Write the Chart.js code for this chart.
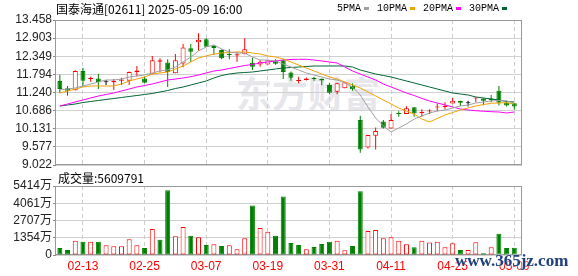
<!DOCTYPE html>
<html>
<head>
<meta charset="utf-8">
<script src="https://cdn.jsdelivr.net/npm/chart.js@4.4.0/dist/chart.umd.min.js"></script>
<style>
    body { margin: 0; background: #fff; width: 578px; height: 276px; overflow: hidden; position: relative; }
    canvas { position: absolute; left: 0; top: 0; }
    .txt { position: absolute; white-space: nowrap; line-height: 16px; }
    #title { left: 56px; top: 0; font: 12px "Noto Sans CJK SC", sans-serif; color: #000; }
    #legend { left: 337px; top: 0; display: flex; align-items: center; font: 10px "Liberation Mono", monospace; color: #000; height: 17px; }
    #legend span.sq { display: inline-block; width: 5px; height: 3px; margin: 0 8px 0 3px; }
    #volLabel { left: 58px; top: 169px; font: 12px "Noto Sans CJK SC", sans-serif; color: #000; }
    #mark { left: 236px; top: 72px; font: bold 36px "Noto Sans CJK SC", sans-serif; color: #e6e6eb; line-height: 40px; }
    #site { left: 455px; top: 251px; font: bold 17px "Liberation Serif", serif; color: #20407c; text-shadow: 0 0 2px #fff, 0 0 2px #fff; line-height: 20px; }
</style>
</head>
<body>
<div class="txt" id="mark">东方财富</div>
<canvas id="kChart" width="578" height="276"></canvas>
<canvas id="volChart" width="578" height="276"></canvas>
<div class="txt" id="title">国泰海通[02611] 2025-05-09 16:00</div>
<div class="txt" id="legend"></div>
<div class="txt" id="volLabel">成交量:5609791</div>
<div class="txt" id="site">www.365jz.com</div>
<script>
// Trading days shown
const dates = ['02-10','02-11','02-12','02-13','02-14','02-17','02-18','02-19','02-20','02-21',
    '02-24','02-25','02-26','02-27','02-28','03-03','03-04','03-05','03-06','03-07',
    '03-10','03-11','03-12','03-13','03-14','03-17','03-18','03-19','03-20','03-21',
    '03-24','03-25','03-26','03-27','03-28','03-31','04-01','04-02','04-03','04-07',
    '04-08','04-09','04-10','04-11','04-14','04-15','04-16','04-17','04-22','04-23',
    '04-24','04-25','04-28','04-29','04-30','05-02','05-06','05-07','05-08','05-09'];
const tickDates = ['02-13','02-25','03-07','03-19','03-31','04-11','04-25','05-09'];

// OHLC
const open  = [11.59,11.37,11.31,11.90,11.65,11.67,11.55,11.55,11.60,11.60,
               11.86,11.67,11.80,12.18,12.16,11.83,12.13,12.59,12.78,12.87,
               12.66,12.54,12.41,12.37,12.41,12.15,12.10,12.10,12.21,12.23,
               11.85,11.59,11.62,11.69,11.65,11.47,11.26,11.37,11.45,10.40,
               9.56,9.92,10.35,10.14,10.61,10.58,10.79,10.61,10.66,10.78,
               10.80,10.90,10.99,10.91,11.06,11.06,11.06,11.29,10.93,10.91];
const high  = [11.78,11.44,11.92,12.00,11.72,11.81,11.62,11.65,11.69,11.88,
               12.05,11.72,12.36,12.29,12.26,12.42,12.72,12.72,13.05,12.90,
               12.69,12.56,12.56,12.49,12.90,12.30,12.23,12.23,12.26,12.26,
               11.88,11.72,11.70,11.72,11.67,11.54,11.54,11.57,11.52,10.53,
               9.94,10.17,10.40,10.58,10.67,10.82,10.79,10.73,10.73,10.90,
               10.94,11.07,10.99,10.99,11.09,11.06,11.16,11.44,10.99,10.91];
const low   = [11.23,11.14,11.30,11.42,11.57,11.35,11.47,11.32,11.47,11.47,
               11.73,11.52,11.80,11.85,11.41,11.83,12.01,12.18,12.52,12.64,
               12.39,12.26,12.26,12.18,12.41,11.93,12.03,12.10,12.09,11.65,
               11.60,11.52,11.61,11.60,11.46,11.19,11.19,11.37,11.29,9.40,
               9.53,9.50,10.14,10.14,10.50,10.58,10.50,10.50,10.58,10.67,
               10.73,10.90,10.83,10.81,10.94,10.85,10.94,10.84,10.81,10.71];
const close = [11.35,11.29,11.90,11.60,11.69,11.55,11.55,11.60,11.64,11.87,
               11.91,11.54,12.23,12.23,11.87,12.23,12.62,12.49,12.85,12.64,
               12.60,12.29,12.39,12.41,12.56,12.03,12.18,12.23,12.12,11.87,
               11.69,11.62,11.67,11.65,11.61,11.23,11.52,11.55,11.34,9.50,
               9.94,10.06,10.16,10.40,10.58,10.76,10.60,10.63,10.69,10.80,
               10.82,10.99,10.93,10.91,11.09,10.99,11.01,10.93,10.84,10.81];

// Moving averages
const ma5  = [11.317,11.347,11.378,11.439,11.500,11.561,11.623,11.623,11.653,11.714,
              11.745,11.776,11.837,11.898,11.928,12.020,12.173,12.326,12.510,12.632,
              12.693,12.571,12.479,12.448,12.448,12.326,12.234,12.234,12.204,12.112,
              12.020,11.928,11.837,11.776,11.714,11.653,11.623,11.531,11.408,11.164,
              10.797,10.460,10.215,10.032,10.154,10.277,10.429,10.521,10.613,10.674,
              10.705,10.766,10.827,10.858,10.919,10.950,10.980,10.996,10.980,10.919];
const ma10 = [11.225,11.286,11.347,11.408,11.439,11.439,11.439,11.439,11.500,11.592,
              11.653,11.714,11.806,11.837,11.867,11.959,12.051,12.173,12.296,12.357,
              12.418,12.448,12.464,12.479,12.479,12.448,12.418,12.357,12.326,12.265,
              12.173,12.081,11.990,11.898,11.806,11.714,11.653,11.561,11.470,11.378,
              11.256,11.133,11.011,10.888,10.766,10.674,10.582,10.429,10.338,10.445,
              10.552,10.628,10.705,10.766,10.827,10.873,10.910,10.919,10.928,10.888];
const ma20 = [10.827,10.888,10.950,11.011,11.072,11.133,11.179,11.225,11.286,11.347,
              11.408,11.454,11.500,11.561,11.623,11.653,11.684,11.724,11.776,11.837,
              11.898,11.928,11.974,12.020,12.066,12.097,12.143,12.173,12.204,12.234,
              12.250,12.256,12.256,12.234,12.204,12.173,12.143,12.020,11.898,11.806,
              11.714,11.623,11.500,11.408,11.317,11.225,11.148,11.057,10.980,10.919,
              10.858,10.797,10.735,10.705,10.684,10.665,10.653,10.644,10.613,10.644];
const ma30 = [10.827,10.858,10.888,10.934,10.965,10.996,11.026,11.057,11.087,11.118,
              11.148,11.179,11.210,11.256,11.301,11.362,11.408,11.470,11.531,11.592,
              11.684,11.760,11.806,11.837,11.852,11.867,11.898,11.928,11.959,11.990,
              12.005,12.020,12.036,12.051,12.051,12.051,12.051,12.051,12.020,11.928,
              11.867,11.806,11.760,11.714,11.653,11.592,11.531,11.470,11.408,11.347,
              11.286,11.225,11.194,11.164,11.103,11.072,11.041,11.011,10.965,10.950];

// Volume (万股) and bar direction (1 = up/red, 0 = down/green)
const volume = [555,396,1110,1030,1030,1030,766,687,687,1242,
                766,555,2035,1189,5073,1480,2193,1506,1400,793,
                845,713,766,449,1321,3884,2114,1823,1506,4597,
                951,793,449,634,872,1030,1110,370,713,4993,
                1876,1955,1321,1400,1110,845,608,1110,977,1030,
                608,925,396,396,1004,132,608,1664,555,561];
const volUp  = [0,0,1,0,1,0,1,1,1,1, 1,0,1,0,0,1,1,0,1,0,
                1,0,1,1,1,0,1,1,0,0, 0,0,1,0,0,0,1,1,0,0,
                1,1,1,1,1,1,0,1,1,1, 1,1,0,1,1,0,1,0,0,0];

const priceTicks = [9.022, 9.577, 10.131, 10.686, 11.240, 11.794, 12.349, 12.903, 13.458];
const volTicks = [0, 1354, 2707, 4061, 5414];

const maNames = ['5PMA', '10PMA', '20PMA', '30PMA'];
const maColors = ['#a0a0a0', '#f2a200', '#ff00ff', '#006633'];

const RED = '#ff0000', GREEN = '#008000', BLACK = '#000000';

// legend
const legend = document.getElementById('legend');
maNames.forEach((n, i) => {
    legend.insertAdjacentHTML('beforeend', n + '<span class="sq" style="background:' + maColors[i] + '"></span>');
});

function candleColor(i) {
    if (close[i] > open[i]) return RED;
    if (close[i] < open[i]) return GREEN;
    return BLACK;
}

// draw panel border
const frame = {
    id: 'frame',
    beforeDatasetsDraw(chart) {
        const a = chart.chartArea, ctx = chart.ctx;
        ctx.save();
        ctx.strokeStyle = '#999';
        ctx.lineWidth = 1;
        ctx.strokeRect(Math.round(a.left) - 0.5, Math.round(a.top) + 0.5,
            Math.round(a.right - a.left), Math.round(a.bottom - a.top) - 1);
        ctx.restore();
    }
};

function dateAxis(showLabels, height) {
    return {
        type: 'linear',
        min: -0.5,
        max: 60,
        offset: false,
        afterBuildTicks: s => { s.ticks = tickDates.map(d => ({ value: dates.indexOf(d) })); },
        afterFit: s => { s.height = height; },
        grid: { color: '#cccccc', drawTicks: false, offset: false },
        border: { display: false, dash: [4, 3] },
        ticks: {
            display: showLabels,
            autoSkip: false,
            maxRotation: 0,
            padding: 4,
            color: RED,
            font: { family: 'Liberation Sans', size: 12 },
            callback: v => dates[v]
        }
    };
}

function valueAxis(min, max, ticks, fmt) {
    return {
        min: min,
        max: max,
        afterBuildTicks: s => { s.ticks = ticks.map(v => ({ value: v })); },
        afterFit: s => { s.width = 56; },
        grid: { color: '#d0d0d0', tickLength: 3, tickColor: '#888' },
        border: { display: false },
        ticks: {
            autoSkip: false,
            padding: 1,
            color: '#222',
            font: { family: "'Liberation Sans', 'Noto Sans CJK SC'", size: 12 },
            callback: fmt
        }
    };
}

const idx = dates.map((d, i) => i);

// K-line panel
new Chart(document.getElementById('kChart'), {
    type: 'bar',
    data: {
        datasets: [
            {
                label: 'wick',
                data: idx.map(i => ({ x: i, y: [low[i], high[i]] })),
                backgroundColor: idx.map(candleColor),
                barThickness: 1,
                grouped: false,
                inflateAmount: 0,
                order: 3
            },
            {
                label: 'body',
                data: idx.map(i => ({ x: i, y: [open[i], close[i]] })),
                backgroundColor: idx.map(i => close[i] > open[i] ? '#ffffff' : candleColor(i)),
                borderColor: idx.map(candleColor),
                borderWidth: 1,
                borderSkipped: false,
                minBarLength: 1,
                barThickness: 5,
                grouped: false,
                inflateAmount: 0,
                order: 2
            },
            ...[ma5, ma10, ma20, ma30].map((ma, k) => ({
                type: 'line',
                label: maNames[k],
                data: ma.map((v, i) => ({ x: i, y: v })),
                borderColor: maColors[k],
                borderWidth: 1,
                pointRadius: 0,
                tension: 0,
                order: 1
            }))
        ]
    },
    options: {
        responsive: false,
        animation: false,
        layout: { padding: { top: 20, right: 56, bottom: 111, left: 0 } },
        plugins: { legend: { display: false }, tooltip: { enabled: false } },
        scales: {
            x: dateAxis(false, 0),
            y: valueAxis(9.022, 13.458, priceTicks, v => v.toFixed(3))
        }
    },
    plugins: [frame]
});

// Volume panel
new Chart(document.getElementById('volChart'), {
    type: 'bar',
    data: {
        datasets: [{
            label: '成交量',
            data: idx.map(i => ({ x: i, y: volume[i] })),
            backgroundColor: idx.map(i => volUp[i] ? '#ffffff' : GREEN),
            borderColor: idx.map(i => volUp[i] ? RED : GREEN),
            borderWidth: 1,
            borderSkipped: false,
            barThickness: 5,
            grouped: false,
            inflateAmount: 0
        }]
    },
    options: {
        responsive: false,
        animation: false,
        layout: { padding: { top: 186, right: 56, bottom: 0, left: 0 } },
        plugins: { legend: { display: false }, tooltip: { enabled: false } },
        scales: {
            x: dateAxis(true, 21),
            y: valueAxis(0, 5414, volTicks, v => v === 0 ? '0' : v + '万')
        }
    },
    plugins: [frame]
});
</script>
</body>
</html>
